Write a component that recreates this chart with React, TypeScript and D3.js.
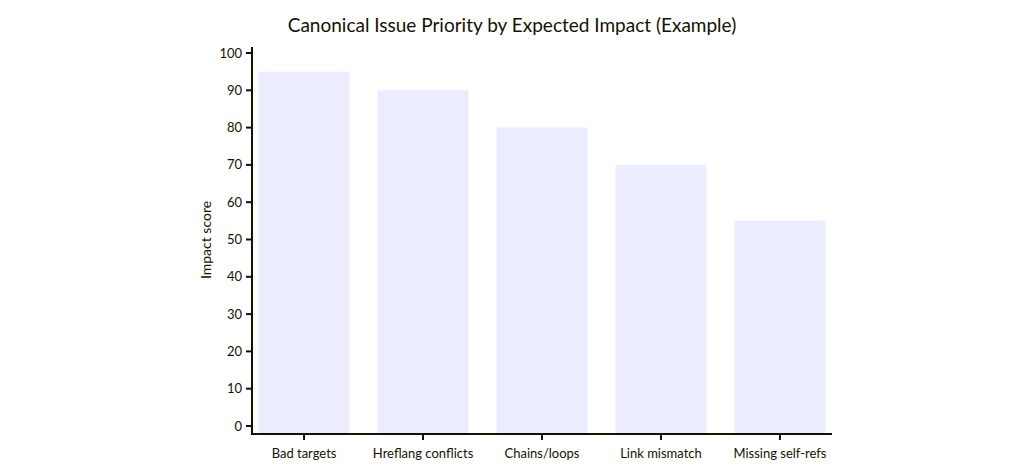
import { useMemo } from "react";
import * as d3 from "d3";

const categories = [
  "Bad targets",
  "Hreflang conflicts",
  "Chains/loops",
  "Link mismatch",
  "Missing self-refs",
];
const impact = [95, 90, 80, 70, 55];
const yTicks = [0, 10, 20, 30, 40, 50, 60, 70, 80, 90, 100];

const title = "Canonical Issue Priority by Expected Impact (Example)";
const yLabel = "Impact score";

const W = 1024;
const H = 475;
const ink = "#131300";
const font = "Lato, 'Open Sans', sans-serif";

export default function App() {
  const left = 252;
  const right = 832;
  const axisY = 434;

  const x = useMemo(
    () =>
      d3
        .scaleBand<string>()
        .domain(categories)
        .range([left, right])
        .paddingInner(0.235)
        .paddingOuter(0.055),
    []
  );
  const y = useMemo(() => d3.scaleLinear().domain([0, 100]).range([426, 53]), []);

  return (
    <svg
      width={W}
      height={H}
      style={{ position: "absolute", left: 0, top: 0, background: "#fff" }}
      fontFamily={font}
    >
      <text x={512} y={32} textAnchor="middle" fontSize={19} fill={ink}>
        {title}
      </text>

      {categories.map((c, i) => (
        <rect
          key={c}
          x={x(c)}
          y={y(impact[i])}
          width={x.bandwidth()}
          height={axisY - y(impact[i])}
          fill="#ECECFF"
        />
      ))}

      {/* y axis */}
      <line x1={left} x2={left} y1={47} y2={axisY + 1} stroke={ink} strokeWidth={2} />
      {yTicks.map((t) => (
        <g key={t} transform={`translate(0,${y(t)})`}>
          <line x1={left - 6} x2={left} stroke={ink} strokeWidth={2} />
          <text
            x={left - 10}
            dy="0.35em"
            textAnchor="end"
            fontSize={13}
            fill={ink}
          >
            {t}
          </text>
        </g>
      ))}
      <text
        transform={`translate(211,240) rotate(-90)`}
        textAnchor="middle"
        fontSize={14}
        fill={ink}
      >
        {yLabel}
      </text>

      {/* x axis */}
      <line x1={left - 1} x2={right} y1={axisY} y2={axisY} stroke={ink} strokeWidth={2} />
      {categories.map((c) => {
        const cx = (x(c) ?? 0) + x.bandwidth() / 2;
        return (
          <g key={c} transform={`translate(${cx},${axisY})`}>
            <line y1={0} y2={6} stroke={ink} strokeWidth={2} />
            <text y={24} textAnchor="middle" fontSize={13} fill={ink}>
              {c}
            </text>
          </g>
        );
      })}
    </svg>
  );
}
